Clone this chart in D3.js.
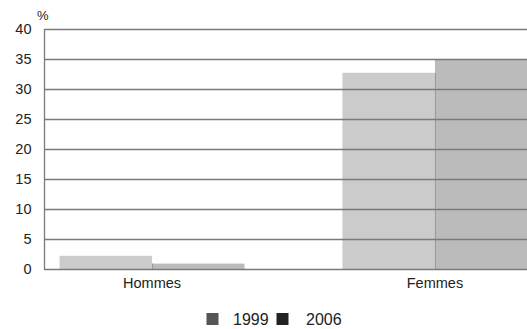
<!DOCTYPE html>
<html>
<head>
<meta charset="utf-8">
<script src="https://cdn.jsdelivr.net/npm/d3@7"></script>
<style>
  html, body { margin: 0; padding: 0; background: #fff; }
  svg { display: block; font-family: "Liberation Sans", Arial, sans-serif; }
</style>
</head>
<body>
<svg id="chart" width="527" height="329"></svg>
<script>
// Data
const categories = ["Hommes", "Femmes"];
const seriesNames = ["1999", "2006"];
const values1999 = [2.2, 32.7];
const values2006 = [0.9, 35.0];
const yTicks = [0, 5, 10, 15, 20, 25, 30, 35, 40];

const barColors = { "1999": "#cbcbcb", "2006": "#bbbbbb" };
const legendColors = { "1999": "#555555", "2006": "#222222" };

const W = 527, H = 329;
const plotLeft = 44, plotTop = 29, plotBottom = 269;

const svg = d3.select("#chart");

const y = d3.scaleLinear().domain([0, 40]).range([plotBottom, plotTop]);
const x0 = d3.scaleBand().domain(categories)
  .range([plotLeft, 543]).paddingInner(0.346).paddingOuter(0.055);
const x1 = d3.scaleBand().domain(seriesNames).range([0, x0.bandwidth()]).padding(0);

const rows = categories.map((c, i) => ({
  cat: c,
  vals: [{ s: "1999", v: values1999[i] }, { s: "2006", v: values2006[i] }]
}));

// Bars
const g = svg.append("g");
g.selectAll("g.cat").data(rows).join("g")
  .attr("class", "cat")
  .attr("transform", d => `translate(${x0(d.cat)},0)`)
  .selectAll("rect").data(d => d.vals).join("rect")
  .attr("x", d => x1(d.s))
  .attr("y", d => y(d.v))
  .attr("width", x1.bandwidth())
  .attr("height", d => y(0) - y(d.v))
  .attr("fill", d => barColors[d.s]);

// Divider between adjacent bars
g.selectAll("line.div").data(rows).join("line")
  .attr("class", "div")
  .attr("x1", d => x0(d.cat) + x1("2006") + 0.5)
  .attr("x2", d => x0(d.cat) + x1("2006") + 0.5)
  .attr("y1", d => y(Math.min(d.vals[0].v, d.vals[1].v)))
  .attr("y2", y(0))
  .attr("stroke", "#9a9a9a").attr("stroke-width", 1);

// Horizontal gridlines (drawn over bars)
svg.append("g").selectAll("line").data(yTicks.filter(t => t > 0)).join("line")
  .attr("x1", plotLeft).attr("x2", W)
  .attr("y1", d => Math.round(y(d)) + 0.5).attr("y2", d => Math.round(y(d)) + 0.5)
  .attr("stroke", "#7a7a7a").attr("stroke-width", 1.3);

// Y axis
const yAxis = svg.append("g")
  .attr("transform", `translate(${plotLeft + 0.5},0)`)
  .call(d3.axisLeft(y).tickValues(yTicks).tickSize(0).tickPadding(13));
yAxis.select(".domain").attr("stroke", "#7a7a7a").attr("stroke-width", 1.3)
  .attr("d", `M0,${plotTop}V${Math.round(plotBottom) + 0.5}`);
yAxis.selectAll("text").attr("font-size", 14.5).attr("fill", "#222")
  .attr("font-family", "Liberation Sans, Arial, sans-serif");

// Baseline
svg.append("line")
  .attr("x1", plotLeft).attr("x2", W)
  .attr("y1", Math.round(y(0)) + 0.5).attr("y2", Math.round(y(0)) + 0.5)
  .attr("stroke", "#7a7a7a").attr("stroke-width", 1.3);

// X axis labels
const xAxis = svg.append("g")
  .attr("transform", `translate(0,${plotBottom})`)
  .call(d3.axisBottom(x0).tickSize(0).tickPadding(9));
xAxis.select(".domain").remove();
xAxis.selectAll("text").attr("font-size", 14.5).attr("fill", "#222")
  .attr("font-family", "Liberation Sans, Arial, sans-serif");

// Unit label
svg.append("text").attr("x", 37).attr("y", 20)
  .attr("font-size", 13).attr("fill", "#222").text("%");

// Legend
const legendSquareX = [206.5, 276.5];
const legendTextX = [233, 306];
const legend = svg.append("g").attr("transform", "translate(0,313)");
const items = legend.selectAll("g").data(seriesNames).join("g");
items.append("rect")
  .attr("x", (d, i) => legendSquareX[i])
  .attr("width", 12).attr("height", 12)
  .attr("fill", d => legendColors[d]);
items.append("text")
  .attr("x", (d, i) => legendTextX[i]).attr("y", 12)
  .attr("font-size", 16).attr("fill", "#222").text(d => d);
</script>
</body>
</html>
